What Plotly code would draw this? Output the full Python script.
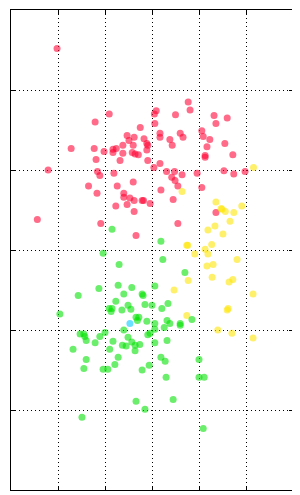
import plotly.graph_objects as go

red_x = [0.98, 3.77, 3.81, 3.09, 3.05, 2.09, 1.79, 3.06, 3.50, 4.32, 4.60, 4.36, 2.75, 4.06, 4.09,
         3.17, 3.17, 3.60, 3.66, 3.38, 3.43, 2.47, 2.62, 2.51, 2.83, 2.89, 2.91, 4.23, 4.17, 4.55,
         2.38, 2.60, 1.28, 1.77, 2.24, 2.17, 1.98, 2.17, 2.38, 2.58, 2.64, 2.71, 2.89, 4.13, 4.13,
         4.72, 1.81, 2.32, 2.91, 3.17, 3.04, 0.79, 1.84, 1.89, 2.19, 3.31, 3.48, 3.42, 3.64, 3.49,
         3.96, 4.53, 4.74, 4.98, 1.65, 2.26, 2.60, 3.55, 1.83, 2.40, 3.19, 4.06, 2.40, 2.53, 2.62,
         2.79, 2.82, 2.96, 3.45, 2.47, 2.23, 2.62, 0.56, 4.36, 1.91, 3.55, 2.66]
red_y = [5.52, 4.85, 4.75, 4.74, 4.70, 4.70, 4.60, 4.58, 4.69, 4.68, 4.65, 4.58, 4.53, 4.49, 4.42,
         4.46, 4.41, 4.46, 4.41, 4.38, 4.31, 4.43, 4.41, 4.37, 4.39, 4.33, 4.31, 4.38, 4.29, 4.33,
         4.31, 4.31, 4.27, 4.27, 4.27, 4.26, 4.23, 4.22, 4.21, 4.22, 4.20, 4.19, 4.25, 4.18, 4.16,
         4.19, 4.13, 4.12, 4.12, 4.08, 4.03, 4.00, 3.98, 3.93, 3.96, 3.98, 3.98, 3.91, 3.94, 3.87,
         3.96, 3.99, 3.95, 3.98, 3.80, 3.80, 3.85, 3.80, 3.71, 3.71, 3.75, 3.78, 3.66, 3.65, 3.62,
         3.62, 3.62, 3.58, 3.63, 3.57, 3.55, 3.48, 3.38, 3.47, 3.33, 3.33, 3.18]

yellow_x = [5.16, 3.64, 4.36, 4.47, 4.49, 4.56, 4.74, 4.91, 4.66, 4.34, 4.19, 4.51, 4.27, 3.74, 3.76,
            4.13, 3.91, 4.19, 4.81, 4.17, 4.30, 4.28, 3.77, 4.72, 4.64, 3.47, 5.15, 4.62, 4.60, 3.74,
            4.40, 4.70, 5.15]
yellow_y = [4.03, 3.73, 3.60, 3.52, 3.51, 3.48, 3.47, 3.55, 3.36, 3.30, 3.25, 3.20, 3.07, 3.06, 3.06,
            3.01, 2.95, 2.95, 2.88, 2.80, 2.82, 2.66, 2.62, 2.63, 2.60, 2.50, 2.45, 2.27, 2.25, 2.18,
            2.00, 1.96, 1.90]

green_x = [2.15, 3.19, 1.96, 3.23, 2.30, 3.70, 2.28, 2.57, 3.06, 1.87, 1.43, 2.40, 2.79, 2.81, 2.23,
           2.85, 3.00, 3.34, 2.49, 3.21, 2.09, 2.15, 2.13, 2.36, 2.55, 1.04, 2.66, 2.72, 2.69, 2.89,
           3.32, 3.85, 3.06, 3.38, 3.60, 3.60, 3.26, 1.47, 1.55, 1.57, 1.60, 1.32, 1.79, 1.89, 2.00,
           2.40, 2.17, 2.49, 2.57, 2.37, 2.45, 2.64, 2.74, 2.64, 2.91, 2.96, 3.06, 3.06, 3.32, 2.10,
           1.60, 1.55, 2.28, 2.21, 1.96, 2.06, 2.79, 2.94, 3.19, 3.28, 4.00, 3.30, 4.00, 4.11, 3.45,
           2.66, 2.85, 1.51, 4.09]
green_y = [3.26, 3.11, 2.96, 2.88, 2.82, 2.72, 2.56, 2.53, 2.55, 2.52, 2.43, 2.45, 2.45, 2.43, 2.36,
           2.32, 2.31, 2.33, 2.31, 2.27, 2.27, 2.27, 2.23, 2.25, 2.26, 2.20, 2.16, 2.16, 2.12, 2.11,
           2.12, 2.13, 2.08, 2.08, 2.08, 2.06, 2.03, 1.95, 1.95, 1.92, 1.87, 1.76, 1.84, 1.92, 1.97,
           2.00, 1.86, 1.91, 1.85, 1.81, 1.80, 1.81, 1.82, 1.74, 1.94, 1.96, 2.01, 1.84, 1.87, 1.76,
           1.63, 1.52, 1.66, 1.57, 1.51, 1.51, 1.50, 1.56, 1.66, 1.61, 1.63, 1.41, 1.41, 1.41, 1.13,
           1.11, 1.01, 0.91, 0.77]

cyan_x = [2.53]
cyan_y = [2.08]

x_range = [0, 6]
y_range = [0, 6]
tick_vals = [0, 1, 2, 3, 4, 5, 6]

fig = go.Figure()
series = [
    (red_x, red_y, "rgb(255,0,50)"),
    (yellow_x, yellow_y, "rgb(255,230,0)"),
    (green_x, green_y, "rgb(0,225,0)"),
    (cyan_x, cyan_y, "rgb(0,200,255)"),
]
for xs, ys, col in series:
    fig.add_trace(go.Scatter(
        x=xs, y=ys, mode="markers",
        marker=dict(size=7, color=col, opacity=0.58, line=dict(width=0)),
        showlegend=False, hoverinfo="skip"))

axis_common = dict(
    showgrid=True, gridcolor="black", gridwidth=1, griddash="1px,3px",
    showline=True, linecolor="black", linewidth=1.3, mirror="ticks",
    ticks="inside", ticklen=4, tickcolor="black", tickwidth=1,
    showticklabels=False, zeroline=False, tickvals=tick_vals,
)
# the page body has an 8px margin, so the figure is sized to fit the 300x495 window
fig.update_layout(
    width=292, height=487,
    margin=dict(l=3, r=7, t=2, b=5),
    paper_bgcolor="white", plot_bgcolor="white",
    xaxis=dict(range=x_range, **axis_common),
    yaxis=dict(range=y_range, **axis_common),
)
fig.write_html("out.html")
